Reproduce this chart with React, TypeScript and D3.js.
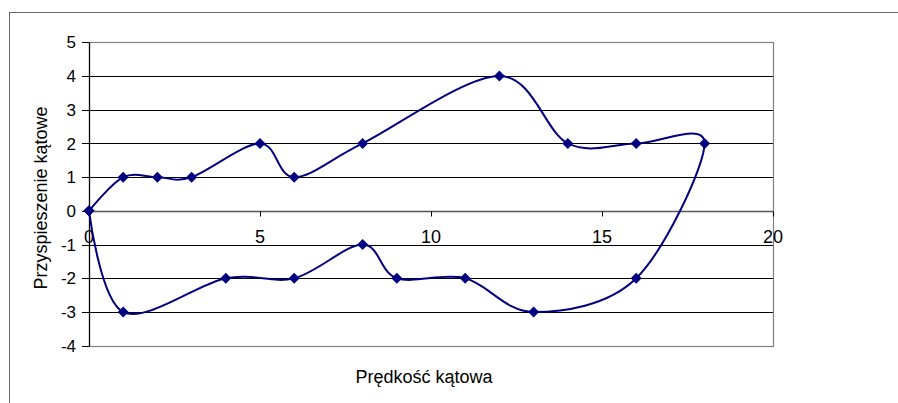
import React from "react";
import * as d3 from "d3";

const xValues = [0, 1, 2, 3, 5, 6, 8, 12, 14, 16, 18, 16, 13, 11, 9, 8, 6, 4, 1, 0];
const yValues = [0, 1, 1, 1, 2, 1, 2, 4, 2, 2, 2, -2, -3, -2, -2, -1, -2, -2, -3, 0];
const xTicks = [0, 5, 10, 15, 20];
const yTicks = [-4, -3, -2, -1, 0, 1, 2, 3, 4, 5];
const xTitle = "Prędkość kątowa";
const yTitle = "Przyspieszenie kątowe";

const W = 898;
const H = 403;
const FONT = "'Liberation Sans', Arial, sans-serif";

export default function App() {
  const left = 89, right = 773, top = 42.3, bottom = 345.7;
  const x = d3.scaleLinear().domain([0, 20]).range([left, right]);
  const y = d3.scaleLinear().domain([-4, 5]).range([bottom, top]);
  const pts: [number, number][] = xValues.map((v, i) => [v, yValues[i]]);
  const line = d3
    .line<[number, number]>()
    .x((d) => x(d[0]))
    .y((d) => y(d[1]))
    .curve(d3.curveCardinal.tension(0));
  const diamond = "M0,-5.5L5.5,0L0,5.5L-5.5,0Z";
  const r = (v: number) => Math.round(v) + 0.5;
  const y0 = r(y(0));

  return (
    <svg
      width={W}
      height={H}
      style={{ position: "absolute", left: 0, top: 0, background: "#fff" }}
      fontFamily={FONT}
    >
      <rect x={9.5} y={12.5} width={900} height={400} fill="#fff" stroke="#666" strokeWidth={1} />
      {/* gridlines */}
      {yTicks.map((t) => (
        <line key={"g" + t} x1={left} x2={right} y1={r(y(t))} y2={r(y(t))} stroke="#000" strokeWidth={1} />
      ))}
      {/* plot border */}
      <rect
        x={left + 0.5}
        y={r(top)}
        width={right - left}
        height={r(bottom) - r(top)}
        fill="none"
        stroke="#808080"
        strokeWidth={1.2}
      />
      {/* y axis */}
      <line x1={left + 0.5} x2={left + 0.5} y1={r(top)} y2={r(bottom)} stroke="#000" strokeWidth={1.2} />
      {yTicks.map((t) => (
        <g key={"y" + t}>
          <line x1={left - 7} x2={left} y1={r(y(t))} y2={r(y(t))} stroke="#000" />
          <text x={76} y={y(t)} dy="0.36em" textAnchor="end" fontSize={17} fill="#000">
            {t}
          </text>
        </g>
      ))}
      {/* x axis */}
      <line x1={left} x2={right} y1={y0} y2={y0} stroke="#555" strokeWidth={1.4} />
      {xTicks.map((t) => (
        <g key={"x" + t}>
          <line x1={r(x(t))} x2={r(x(t))} y1={y0} y2={y0 + 5} stroke="#000" />
          <text x={x(t)} y={243} textAnchor="middle" fontSize={18} fill="#000">
            {t}
          </text>
        </g>
      ))}
      {/* series */}
      <path d={line(pts) || ""} fill="none" stroke="#000080" strokeWidth={2} />
      {pts.map((p, i) => (
        <path key={"m" + i} d={diamond} transform={`translate(${x(p[0])},${y(p[1])})`} fill="#000080" />
      ))}
      {/* titles */}
      <text x={424} y={383} textAnchor="middle" fontSize={18} fill="#000">
        {xTitle}
      </text>
      <text transform="translate(47,198) rotate(-90)" textAnchor="middle" fontSize={18} fill="#000">
        {yTitle}
      </text>
    </svg>
  );
}
